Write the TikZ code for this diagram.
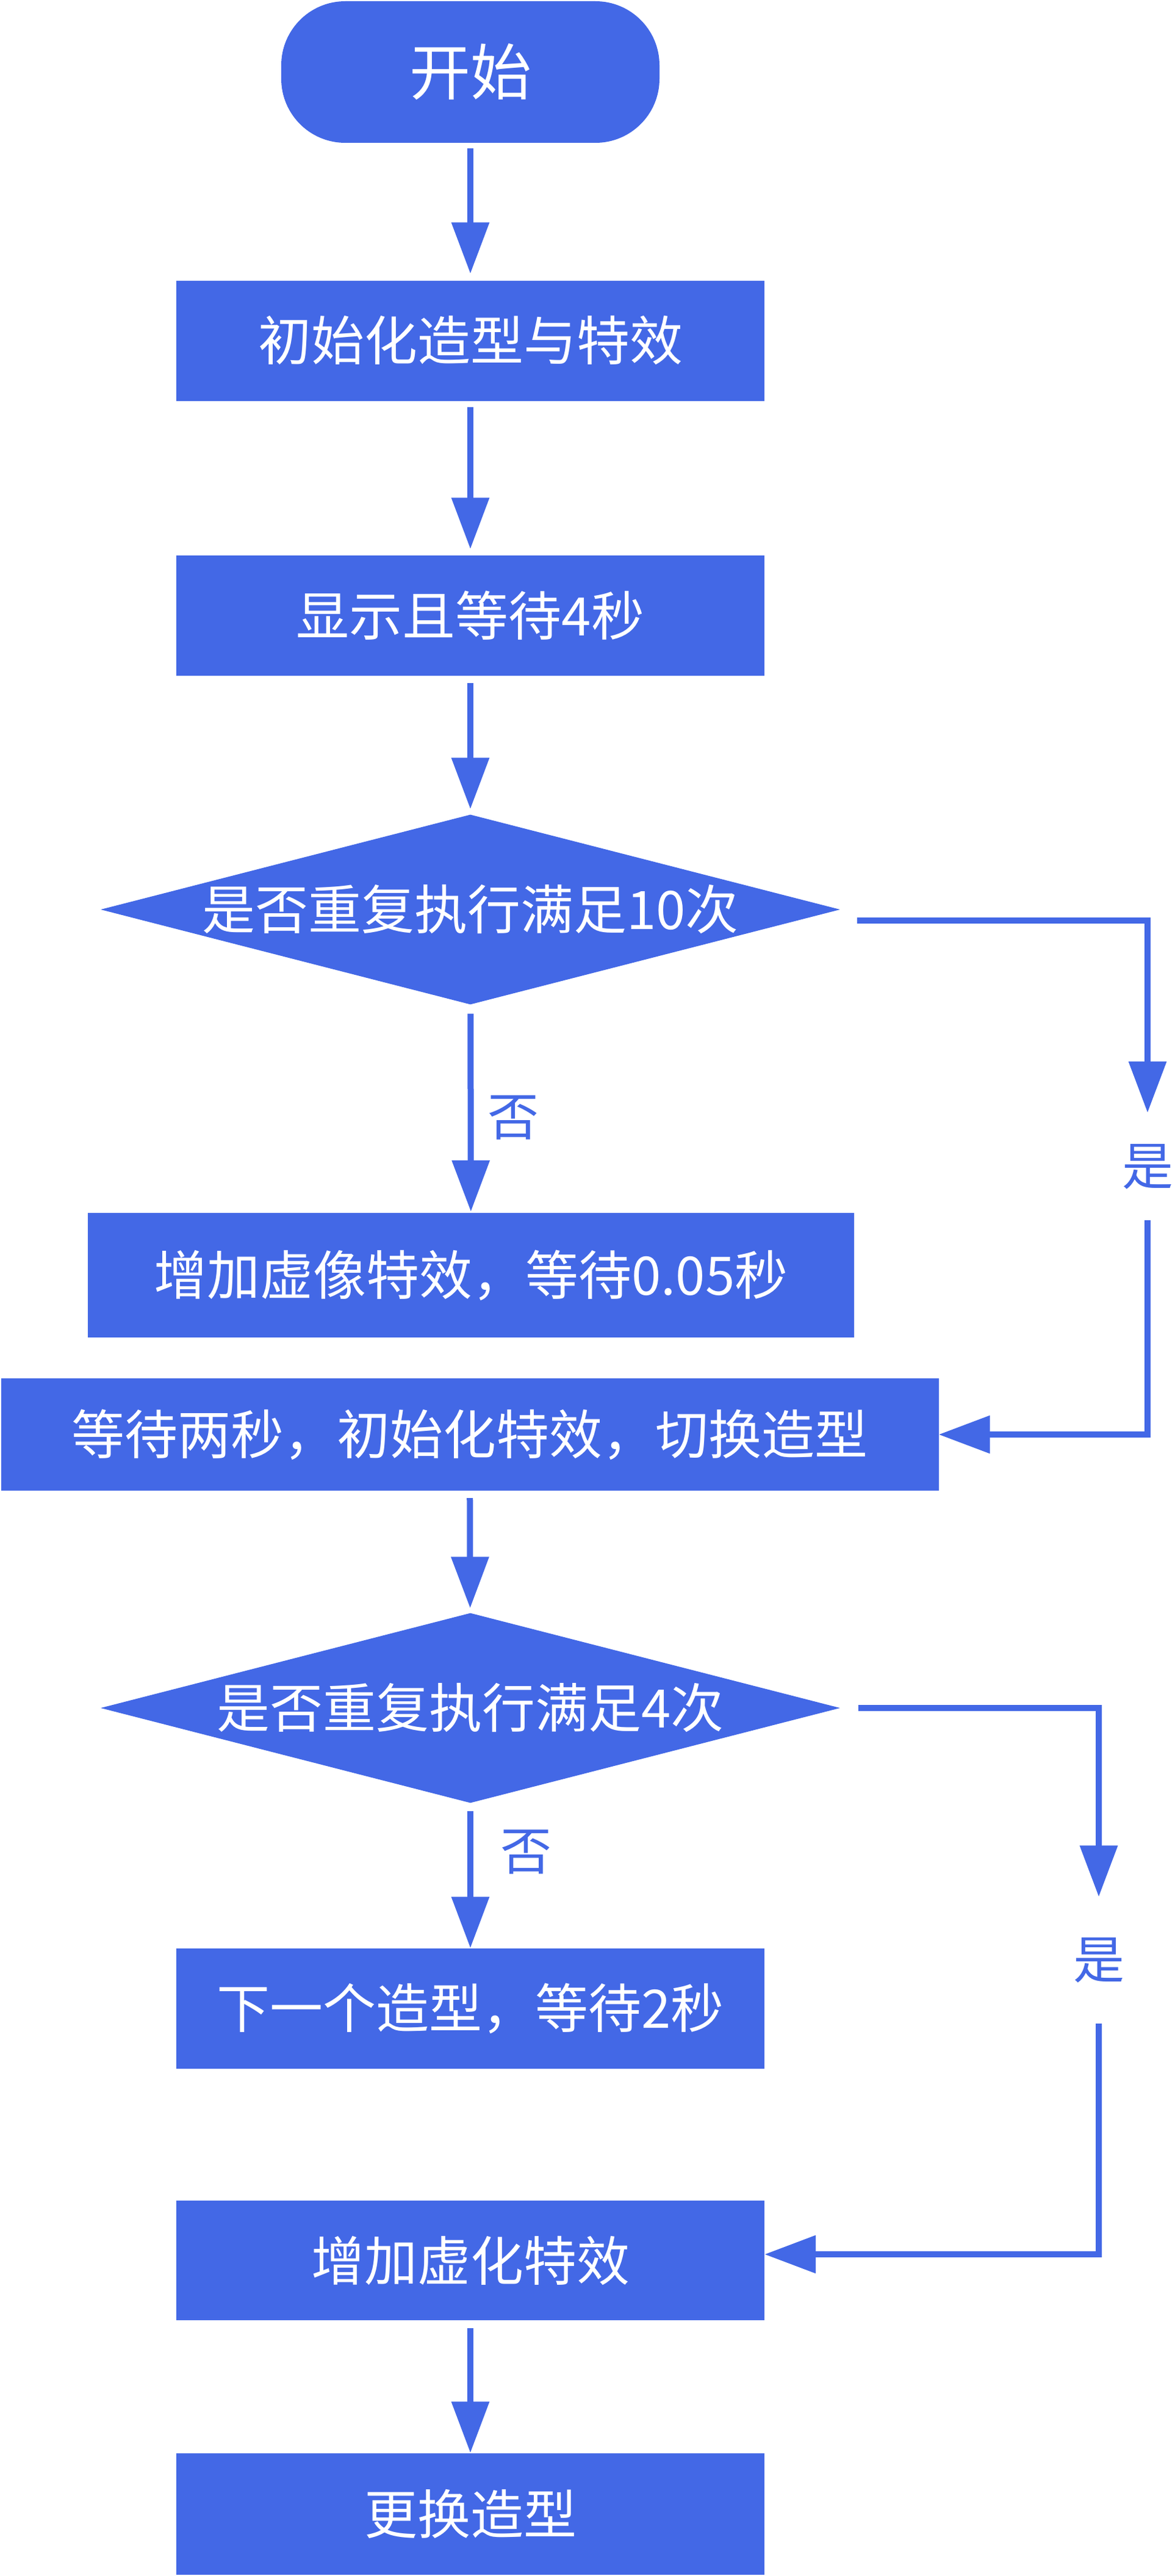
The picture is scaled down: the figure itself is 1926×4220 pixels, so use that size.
\documentclass[tikz,border=0pt]{standalone}
\usepackage{fontspec}
\setmainfont{Noto Sans CJK SC}
\usetikzlibrary{shapes.geometric,arrows.meta,calc}
\definecolor{fcblue}{RGB}{67,104,230}
\tikzset{
  boxstyle/.style={draw=none,fill=fcblue,text=white,inner sep=0pt,
    font=\fontsize{87pt}{100pt}\selectfont},
  decstyle/.style={diamond,draw=none,fill=fcblue,text=white,inner sep=0pt,
    minimum width=1212pt,minimum height=311pt,
    font=\fontsize{87pt}{100pt}\selectfont},
  lblstyle/.style={text=fcblue,inner sep=0pt,font=\fontsize{84pt}{96pt}\selectfont},
  conn/.style={draw=fcblue,line width=10pt,
    -{Triangle[width=60pt,length=84pt]}},
  plainconn/.style={draw=fcblue,line width=10pt}
}
\begin{document}
\begin{tikzpicture}[x=1pt,y=-1pt]
\useasboundingbox (0,0) rectangle (1926,4220);
% nodes
\node[boxstyle,rounded corners=105pt,minimum width=620pt,minimum height=232pt,
  font=\fontsize{100pt}{110pt}\selectfont] (start) at (771,118) {开始};
\node[boxstyle,minimum width=964pt,minimum height=197pt] (b1) at (771,558) {初始化造型与特效};
\node[boxstyle,minimum width=964pt,minimum height=197pt] (b2) at (771,1008) {显示且等待4秒};
\node[decstyle] (d1) at (771,1490) {\makebox[0pt]{是否重复执行满足10次}};
\node[boxstyle,minimum width=1256pt,minimum height=204pt] (b3) at (772,2089) {增加虚像特效，等待0.05秒};
\node[boxstyle,minimum width=1537pt,minimum height=184pt] (b4) at (770,2350) {等待两秒，初始化特效，切换造型};
\node[decstyle] (d2) at (771,2798) {\makebox[0pt]{是否重复执行满足4次}};
\node[boxstyle,minimum width=964pt,minimum height=197pt] (b5) at (771,3290) {下一个造型，等待2秒};
\node[boxstyle,minimum width=964pt,minimum height=196pt] (b6) at (771,3703) {增加虚化特效};
\node[boxstyle,minimum width=964pt,minimum height=199pt] (b7) at (771,4118) {更换造型};
% labels
\node[lblstyle,minimum height=176pt] (yes1) at (1881,1911) {是};
\node[lblstyle,minimum height=207pt] (yes2) at (1801,3211) {是};
\node[lblstyle] (no1) at (841,1831) {否};
\node[lblstyle] (no2) at (862,3034) {否};
% connectors
\draw[conn,shorten <=9pt,shorten >=11pt] (start) -- (b1);
\draw[conn,shorten <=10pt,shorten >=10pt] (b1) -- (b2);
\draw[conn,shorten <=12pt,shorten >=9pt] (b2) -- (d1);
\draw[conn,shorten <=15pt,shorten >=2pt] (d1) -- (b3);
\draw[conn,shorten <=12pt,shorten >=8pt] (b4) -- (d2);
\draw[conn,shorten <=13pt] (d2) -- (b5);
\draw[conn,shorten <=13pt] (b6) -- (b7);
\draw[conn] ([shift={(28,18)}]d1.east) -| (yes1.north);
\draw[conn] (yes1.south) |- (b4.east);
\draw[conn] ([shift={(30,0)}]d2.east) -| (yes2.north);
\draw[conn] (yes2.south) |- ([yshift=10pt]b6.east);
\end{tikzpicture}
\end{document}
